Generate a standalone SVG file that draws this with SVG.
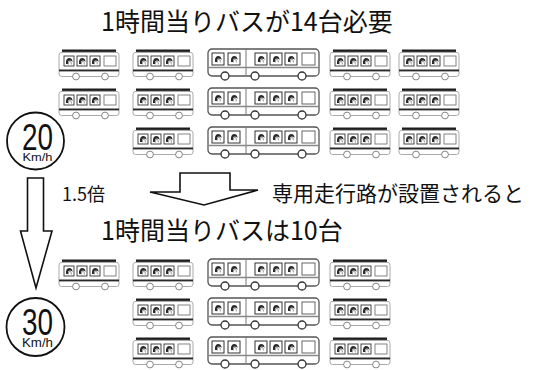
<svg xmlns="http://www.w3.org/2000/svg" xmlns:xlink="http://www.w3.org/1999/xlink" width="534" height="370" viewBox="0 0 534 370">
<style>
.jp{font-family:"Noto Sans CJK JP","Noto Sans",sans-serif;fill:#111}
.lat{font-family:"Liberation Sans",Arial,sans-serif;fill:#111}
.outline{fill:#fff;stroke:#111;stroke-width:1.6}
.ring{fill:#fff;stroke:#111;stroke-width:1.8}
</style>
<defs>
<symbol id="face" viewBox="0 0 10 10" overflow="visible">
<path d="M2,8 Q1.5,2.5 5,2 Q8.5,2 8.5,6 L7.5,5 Q6,4.2 4.5,5 Q3.8,6.5 4,8 Z" fill="#2a2a2a"/>
<path d="M4.3,8.5 Q4,5.6 6,5.3 Q7.6,5.6 7.4,8.5" fill="none" stroke="#555" stroke-width="0.6"/>
</symbol>
<symbol id="bus" viewBox="0 0 62 32" overflow="visible">
<path d="M3,4.5 H59 Q61,4.5 61,7.5 V26 Q61,28.5 58.5,28.5 H3.5 Q1,28.5 1,26 V7.5 Q1,4.5 3,4.5 Z" fill="#fff" stroke="#a0a0a0" stroke-width="0.9"/>
<rect x="4" y="1.5" width="54" height="2.4" fill="#1e1e1e"/>
<rect x="6" y="8" width="10" height="10" fill="#fff" stroke="#333" stroke-width="0.9"/>
<rect x="19" y="8" width="10" height="10" fill="#fff" stroke="#333" stroke-width="0.9"/>
<rect x="32" y="8" width="10" height="10" fill="#fff" stroke="#333" stroke-width="0.9"/>
<rect x="46" y="8" width="12" height="10" fill="#fff" stroke="#777" stroke-width="0.9"/>
<use xlink:href="#face" x="6" y="8" width="10" height="10"/>
<use xlink:href="#face" x="19" y="8" width="10" height="10"/>
<use xlink:href="#face" x="32" y="8" width="10" height="10"/>
<rect x="1" y="21.5" width="60" height="1.9" fill="#2a2a2a"/>
<circle cx="18" cy="28.5" r="3.4" fill="#fff" stroke="#777" stroke-width="0.9"/>
<circle cx="47" cy="28.5" r="3.4" fill="#fff" stroke="#777" stroke-width="0.9"/>
</symbol>
<symbol id="artic" viewBox="0 0 113 32" overflow="visible">
<rect x="1" y="1" width="111" height="27" rx="4" fill="#fff" stroke="#555" stroke-width="1.3"/>
<line x1="39" y1="1" x2="39" y2="28" stroke="#777" stroke-width="1"/>
<rect x="5" y="5" width="12" height="12" fill="#fff" stroke="#333" stroke-width="1"/>
<rect x="21" y="5" width="12" height="12" fill="#fff" stroke="#333" stroke-width="1"/>
<rect x="48" y="5" width="12" height="12" fill="#fff" stroke="#333" stroke-width="1"/>
<rect x="63" y="5" width="12" height="12" fill="#fff" stroke="#333" stroke-width="1"/>
<rect x="78" y="5" width="12" height="12" fill="#fff" stroke="#333" stroke-width="1"/>
<rect x="95" y="5" width="13" height="12" fill="#fff" stroke="#666" stroke-width="1"/>
<use xlink:href="#face" x="6" y="6" width="10" height="10"/>
<use xlink:href="#face" x="22" y="6" width="10" height="10"/>
<use xlink:href="#face" x="49" y="6" width="10" height="10"/>
<use xlink:href="#face" x="64" y="6" width="10" height="10"/>
<use xlink:href="#face" x="79" y="6" width="10" height="10"/>
<line x1="1.5" y1="19.5" x2="111.5" y2="19.5" stroke="#888" stroke-width="1.3"/>
<circle cx="18" cy="28" r="4" fill="#fff" stroke="#333" stroke-width="1.3"/>
<circle cx="48" cy="28" r="4" fill="#fff" stroke="#333" stroke-width="1.3"/>
<circle cx="95" cy="28" r="4" fill="#fff" stroke="#333" stroke-width="1.3"/>
</symbol>
</defs>

<g id="title-top"><text class="jp" x="101" y="31" font-size="25">1時間当りバスが14台必要</text></g>

<g id="buses-before">
<use xlink:href="#bus" x="58" y="48" width="62" height="32"/>
<use xlink:href="#bus" x="132" y="48" width="62" height="32"/>
<use xlink:href="#artic" x="207" y="48" width="113" height="32"/>
<use xlink:href="#bus" x="329" y="48" width="62" height="32"/>
<use xlink:href="#bus" x="398" y="48" width="62" height="32"/>
<use xlink:href="#bus" x="58" y="87" width="62" height="32"/>
<use xlink:href="#bus" x="132" y="87" width="62" height="32"/>
<use xlink:href="#artic" x="207" y="87" width="113" height="32"/>
<use xlink:href="#bus" x="329" y="87" width="62" height="32"/>
<use xlink:href="#bus" x="398" y="87" width="62" height="32"/>
<use xlink:href="#bus" x="132" y="126" width="62" height="32"/>
<use xlink:href="#artic" x="207" y="126" width="113" height="32"/>
<use xlink:href="#bus" x="329" y="126" width="62" height="32"/>
<use xlink:href="#bus" x="398" y="126" width="62" height="32"/>
</g>

<g id="speed20">
<circle class="ring" cx="35.5" cy="141" r="28.5"/>
<text class="lat" x="37.5" y="149.5" font-size="36" text-anchor="middle" textLength="31" lengthAdjust="spacingAndGlyphs">20</text>
<text class="lat" x="37.5" y="161" font-size="11.5" text-anchor="middle" textLength="30" lengthAdjust="spacingAndGlyphs">Km/h</text>
</g>

<g id="speed30">
<circle class="ring" cx="35.5" cy="327" r="29"/>
<text class="lat" x="37.5" y="335" font-size="36" text-anchor="middle" textLength="31" lengthAdjust="spacingAndGlyphs">30</text>
<text class="lat" x="37.5" y="347" font-size="12" text-anchor="middle" textLength="31" lengthAdjust="spacingAndGlyphs">Km/h</text>
</g>

<g id="connectors">
<path class="outline" d="M27.5,178 H43.5 V231 H52 L36,288 L20.5,231 H27.5 Z"/>
<path class="outline" d="M180,173 H230 V190 H258 L204,205 L150,192 H180 Z"/>
</g>

<g id="label-ratio"><text class="jp" x="62" y="201" font-size="18">1.5倍</text></g>
<g id="label-lane"><text class="jp" x="272" y="201" font-size="21">専用走行路が設置されると</text></g>
<g id="title-bottom"><text class="jp" x="101" y="240" font-size="25">1時間当りバスは10台</text></g>

<g id="buses-after">
<use xlink:href="#bus" x="58" y="258" width="62" height="32"/>
<use xlink:href="#bus" x="132" y="258" width="62" height="32"/>
<use xlink:href="#artic" x="207" y="258" width="113" height="32"/>
<use xlink:href="#bus" x="329" y="258" width="62" height="32"/>
<use xlink:href="#bus" x="132" y="297" width="62" height="32"/>
<use xlink:href="#artic" x="207" y="297" width="113" height="32"/>
<use xlink:href="#bus" x="329" y="297" width="62" height="32"/>
<use xlink:href="#bus" x="132" y="336" width="62" height="32"/>
<use xlink:href="#artic" x="207" y="336" width="113" height="32"/>
<use xlink:href="#bus" x="329" y="336" width="62" height="32"/>
</g>
</svg>
